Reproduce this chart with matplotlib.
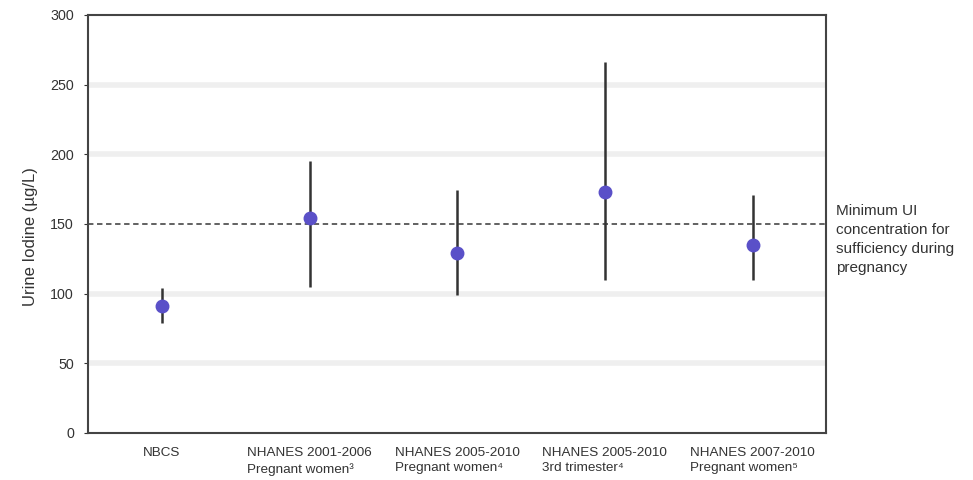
import numpy as np
import matplotlib.pyplot as plt

plt.rcParams['font.family'] = ['Liberation Sans', 'DejaVu Sans']

# studies and median urine iodine with ranges
labels = ['NBCS',
          'NHANES 2001-2006\nPregnant women³',
          'NHANES 2005-2010\nPregnant women⁴',
          'NHANES 2005-2010\n3rd trimester⁴',
          'NHANES 2007-2010\nPregnant women⁵']
medians = [91, 154, 129, 173, 135]
lower = [79, 105, 99, 110, 110]
upper = [104, 195, 174, 266, 171]
threshold = 150

x = np.arange(len(labels)) + 0.5
med = np.array(medians)
yerr = [med - np.array(lower), np.array(upper) - med]

fig = plt.figure(figsize=(9.73, 4.8), dpi=100)
ax = fig.add_axes([0.0904, 0.098, 0.759, 0.871])

for g in [50, 100, 200, 250]:
    ax.axhline(g, color='#efefef', linewidth=4, zorder=0)

ax.axhline(threshold, color='#555555', linestyle=(0, (3, 2)), linewidth=1.3, zorder=1)

ax.errorbar(x, med, yerr=yerr, fmt='o', color='#5a50c8', ecolor='#333333',
            elinewidth=1.8, capsize=0, markersize=9, zorder=3)

ax.set_xlim(0, len(labels))
ax.set_ylim(0, 300)
ax.set_yticks(range(0, 301, 50))
ax.set_xticks(x)
ax.set_xticklabels(labels, fontsize=9.7, multialignment='left', color='#333333',
                   linespacing=1.4)
ax.tick_params(axis='y', labelsize=10.3, colors='#333333', length=3, pad=7)
ax.tick_params(axis='x', length=0, pad=10)
ax.set_ylabel('Urine Iodine (µg/L)', fontsize=12, color='#333333')
ax.yaxis.set_label_coords(-0.068, 0.47)

for s in ax.spines.values():
    s.set_color('#444444')
    s.set_linewidth(1.5)

ax.text(1.013, 139, 'Minimum UI\nconcentration for\nsufficiency during\npregnancy',
        transform=ax.get_yaxis_transform(), fontsize=11, va='center', ha='left',
        color='#333333', linespacing=1.45)

fig.savefig('out.png', dpi=100)
